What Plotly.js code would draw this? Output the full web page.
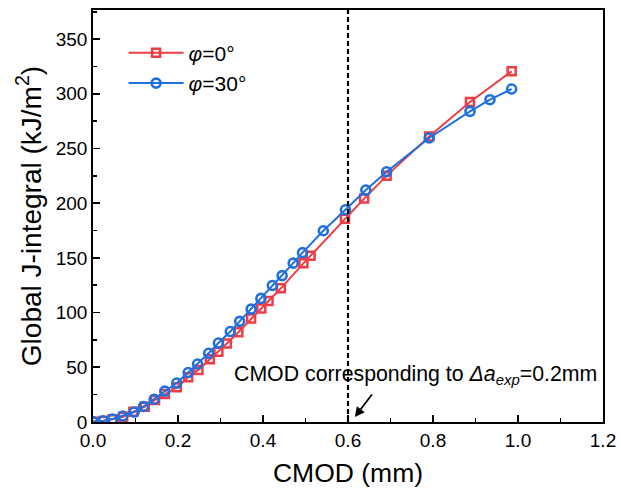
<!DOCTYPE html>
<html>
<head>
<meta charset="utf-8">
<script src="https://cdn.plot.ly/plotly-3.0.1.min.js"></script>
<style>html,body{margin:0;padding:0;background:#fff;}#chart{width:621px;height:496px;}</style>
</head>
<body>
<div id="chart"></div>
<script>
// φ = 0° series
const cmod0 = [0, 0.024, 0.046, 0.071, 0.095, 0.122, 0.146, 0.169, 0.197, 0.224, 0.248, 0.275, 0.295, 0.315, 0.342, 0.372, 0.396, 0.413, 0.442, 0.495, 0.512, 0.593, 0.638, 0.691, 0.791, 0.887, 0.985];
const j0    = [0.3, 0.9, 2.5, 4.8, 9.4, 14.0, 20.1, 25.5, 31.7, 40.9, 47.5, 57.3, 64.3, 71.8, 82.0, 94.6, 103.7, 110.6, 122.2, 145.0, 152.0, 185.9, 204.2, 225.2, 261.0, 292.5, 320.5];
// φ = 30° series
const cmod30 = [0, 0.024, 0.046, 0.070, 0.097, 0.119, 0.144, 0.169, 0.197, 0.224, 0.246, 0.272, 0.295, 0.323, 0.345, 0.372, 0.395, 0.422, 0.445, 0.471, 0.493, 0.542, 0.594, 0.642, 0.691, 0.791, 0.887, 0.934, 0.985];
const j30    = [0.5, 1.2, 2.7, 5.5, 9.1, 14.2, 20.8, 28.2, 35.6, 45.2, 53.0, 62.8, 72.2, 82.7, 92.0, 103.2, 113.0, 124.8, 133.8, 145.2, 154.8, 174.8, 194.0, 212.0, 228.8, 259.6, 283.9, 294.6, 304.4];
const seriesNames = ['<i>φ</i>=0°', '<i>φ</i>=30°'];
const refCMOD = 0.6;

const FONT = 'Arial, "Liberation Sans", sans-serif';
const RED = '#F03C44';
const BLUE = '#1F6FE0';

const traces = [
  {x: cmod0, y: j0, name: seriesNames[0], type: 'scatter', mode: 'lines+markers',
   line: {color: RED, width: 2},
   marker: {symbol: 'square-open', size: 8, color: RED, line: {width: 2.5, color: RED}}},
  {x: cmod30, y: j30, name: seriesNames[1], type: 'scatter', mode: 'lines+markers',
   line: {color: BLUE, width: 2},
   marker: {symbol: 'circle-open', size: 9, color: BLUE, line: {width: 2.6, color: BLUE}}}
];

const axisCommon = {
  showline: true, linecolor: '#000', linewidth: 1.8, mirror: true,
  ticks: 'inside', ticklen: 7, tickwidth: 1.6, tickcolor: '#000',
  showgrid: false, zeroline: false,
  tickfont: {family: FONT, size: 19, color: '#000'}
};

const layout = {
  width: 621, height: 496,
  margin: {l: 93, r: 18, t: 10, b: 74},
  paper_bgcolor: '#fff', plot_bgcolor: '#fff',
  font: {family: FONT, color: '#000'},
  showlegend: true,
  legend: {x: 0.06, y: 0.945, xanchor: 'left', yanchor: 'top',
    bgcolor: 'rgba(0,0,0,0)', font: {family: FONT, size: 21, color: '#000'},
    itemwidth: 55, tracegroupgap: 0},
  xaxis: Object.assign({}, axisCommon, {
    range: [0, 1.2], tickmode: 'linear', tick0: 0, dtick: 0.2, tickformat: '.1f',
    minor: {ticks: 'inside', ticklen: 4, tickwidth: 1.6, tickcolor: '#000', dtick: 0.1, showgrid: false},
    title: {text: 'CMOD (mm)', font: {family: FONT, size: 26.5, color: '#000'}, standoff: 14}
  }),
  yaxis: Object.assign({}, axisCommon, {
    range: [0, 376.6], tickmode: 'linear', tick0: 0, dtick: 50,
    minor: {ticks: 'inside', ticklen: 4, tickwidth: 1.6, tickcolor: '#000', dtick: 25, showgrid: false},
    title: {text: 'Global J-integral (kJ/m<sup>2</sup>)', font: {family: FONT, size: 28, color: '#000'}, standoff: 6}
  }),
  shapes: [
    {type: 'line', xref: 'x', yref: 'paper', x0: refCMOD, x1: refCMOD, y0: 0, y1: 1,
     line: {color: '#000', width: 2.2, dash: '5px,3px'}}
  ],
  annotations: [
    {xref: 'x', yref: 'y', x: 0.758, y: 43, showarrow: false, xanchor: 'center', yanchor: 'middle',
     text: 'CMOD corresponding to <i>Δa</i><sub><i>exp</i></sub>=0.2mm',
     font: {family: FONT, size: 21.3, color: '#000'}},
    {xref: 'x', yref: 'y', axref: 'x', ayref: 'y', x: 0.616, y: 4.5, ax: 0.659, ay: 26.5,
     text: '', showarrow: true, arrowhead: 2, arrowsize: 1.1, arrowwidth: 1.8, arrowcolor: '#000'}
  ]
};

Plotly.newPlot('chart', traces, layout, {displayModeBar: false, staticPlot: true});
</script>
</body>
</html>
